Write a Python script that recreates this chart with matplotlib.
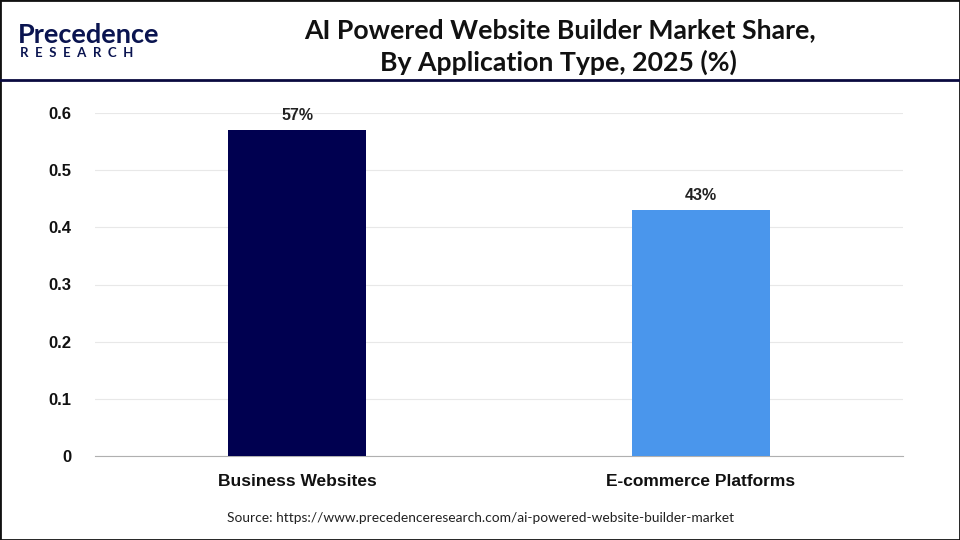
import matplotlib.pyplot as plt
from matplotlib.lines import Line2D
from matplotlib.patches import Rectangle

categories = ["Business Websites", "E-commerce Platforms"]
shares = [0.57, 0.43]
bar_labels = ["57%", "43%"]
bar_colors = ["#000050", "#4a96ec"]
yticks = [0, 0.1, 0.2, 0.3, 0.4, 0.5, 0.6]
ytick_labels = ["0", "0.1", "0.2", "0.3", "0.4", "0.5", "0.6"]

plt.rcParams['font.family'] = ['Liberation Sans', 'DejaVu Sans']

fig = plt.figure(figsize=(9.6, 5.4), dpi=100)
ax = fig.add_axes([95 / 960, 1 - 456 / 540, 808 / 960, 343 / 540])

x = range(len(categories))
ax.bar(x, shares, width=0.34, color=bar_colors, zorder=3)
for xi, v, lab in zip(x, shares, bar_labels):
    ax.text(xi, v + 0.013, lab, ha='center', va='bottom', fontsize=11.5,
            fontweight='bold', color='#222222', clip_on=False)

ax.set_xlim(-0.5, 1.5)
ax.set_ylim(0, 0.6)
ax.set_yticks(yticks)
ax.set_yticklabels(ytick_labels, fontsize=12, fontweight='bold')
ax.set_xticks(list(x))
ax.set_xticklabels(categories, fontsize=12.5, fontweight='bold')
ax.grid(axis='y', color='#e8e8e8', linewidth=0.8, zorder=0)
for s in ['top', 'right', 'left']:
    ax.spines[s].set_visible(False)
ax.spines['bottom'].set_color('#b0b0b0')
ax.tick_params(axis='both', length=0, colors='#111111')
ax.tick_params(axis='y', pad=17)
ax.tick_params(axis='x', pad=13)

# header
title_font = ['Lato', 'DejaVu Sans']
fig.text(560 / 960, 1 - 30 / 540, "AI Powered Website Builder Market Share,",
         ha='center', va='center', fontsize=19.2, fontweight='bold', color='#111111',
         family=title_font)
fig.text(558 / 960, 1 - 62 / 540, "By Application Type, 2025 (%)",
         ha='center', va='center', fontsize=19.2, fontweight='bold', color='#111111',
         family=title_font)
fig.add_artist(Line2D([0, 1], [1 - 80 / 540, 1 - 80 / 540], color='#0a0a40', linewidth=2))

# logo
fig.text(18 / 960, 1 - 35 / 540, "Precedence", ha='left', va='center', fontsize=19.5,
         fontweight='bold', color='#0a1450', family=title_font)
fig.text(20 / 960, 1 - 53 / 540, "R  E  S  E  A  R  C  H", ha='left', va='center',
         fontsize=9.5, fontweight='bold', color='#0a1450', family=title_font)

fig.text(481 / 960, 1 - 518 / 540,
         "Source: https://www.precedenceresearch.com/ai-powered-website-builder-market",
         ha='center', va='center', fontsize=9.9, color='#222222', family=title_font)

fig.add_artist(Rectangle((0, 0), 1, 1, transform=fig.transFigure, fill=False,
                         edgecolor='#111111', linewidth=2))

fig.savefig("out.png", dpi=100)
